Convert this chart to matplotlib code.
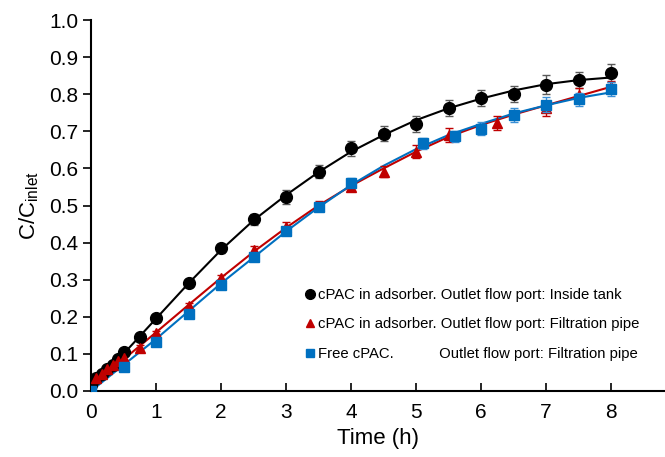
import numpy as np
import matplotlib
matplotlib.use("Agg")
import matplotlib.pyplot as plt
from matplotlib.lines import Line2D

plt.rcParams['font.family'] = ['Liberation Sans', 'DejaVu Sans']

# measured points
t_black = [0, 0.083, 0.167, 0.25, 0.333, 0.417, 0.5, 0.75, 1, 1.5, 2, 2.5, 3, 3.5, 4, 4.5, 5, 5.5, 6, 6.5, 7, 7.5, 8]
y_black = [0.015, 0.035, 0.045, 0.06, 0.07, 0.085, 0.105, 0.146, 0.196, 0.29, 0.385, 0.463, 0.523, 0.591, 0.654, 0.693, 0.72, 0.762, 0.79, 0.80, 0.826, 0.838, 0.857]
e_black = [0.005, 0.005, 0.005, 0.005, 0.005, 0.005, 0.008, 0.008, 0.01, 0.01, 0.012, 0.015, 0.018, 0.018, 0.02, 0.02, 0.022, 0.022, 0.022, 0.022, 0.025, 0.022, 0.025]

t_red = [0, 0.083, 0.167, 0.25, 0.333, 0.417, 0.5, 0.75, 1, 1.5, 2, 2.5, 3, 3.5, 4, 4.5, 5, 5.5, 6.25, 7, 7.5, 8]
y_red = [0.0, 0.035, 0.045, 0.06, 0.07, 0.08, 0.09, 0.115, 0.155, 0.229, 0.304, 0.38, 0.443, 0.5, 0.55, 0.591, 0.645, 0.69, 0.722, 0.762, 0.797, 0.82]
e_red = [0.005, 0.005, 0.005, 0.005, 0.005, 0.005, 0.006, 0.008, 0.008, 0.008, 0.008, 0.01, 0.012, 0.012, 0.012, 0.015, 0.018, 0.02, 0.018, 0.02, 0.02, 0.015]

t_blue = [0, 0.5, 1, 1.5, 2, 2.5, 3, 3.5, 4, 5.1, 5.6, 6, 6.5, 7, 7.5, 8]
y_blue = [0.0, 0.065, 0.133, 0.207, 0.285, 0.36, 0.432, 0.497, 0.561, 0.668, 0.686, 0.707, 0.744, 0.772, 0.786, 0.814]
e_blue = [0.004, 0.006, 0.008, 0.01, 0.01, 0.01, 0.01, 0.01, 0.012, 0.015, 0.015, 0.018, 0.02, 0.02, 0.018, 0.02]

# fitted curves
t_fit = [0, 0.5, 1, 1.5, 2, 2.5, 3, 3.5, 4, 4.5, 5, 5.5, 6, 6.5, 7, 7.5, 8]
fit_black = [0.01, 0.1, 0.195, 0.29, 0.38, 0.46, 0.528, 0.59, 0.645, 0.69, 0.73, 0.762, 0.788, 0.81, 0.827, 0.838, 0.845]
fit_red = [0.005, 0.085, 0.158, 0.232, 0.305, 0.375, 0.44, 0.5, 0.553, 0.6, 0.645, 0.685, 0.717, 0.745, 0.77, 0.795, 0.82]
fit_blue = [0.0, 0.07, 0.14, 0.215, 0.29, 0.36, 0.43, 0.495, 0.555, 0.607, 0.652, 0.69, 0.72, 0.748, 0.77, 0.79, 0.805]

labels = ["cPAC in adsorber. Outlet flow port: Inside tank",
          "cPAC in adsorber. Outlet flow port: Filtration pipe",
          "Free cPAC.           Outlet flow port: Filtration pipe"]

c_black, c_red, c_blue = "black", "#C00000", "#0070C0"

fig = plt.figure(figsize=(6.65, 4.57), dpi=100)
ax = fig.add_axes([91 / 665, 1 - 391 / 457, (665 - 91) / 665, (391 - 20) / 457])

ax.plot(t_fit, fit_black, color=c_black, lw=1.5, zorder=2)
ax.plot(t_fit, fit_red, color=c_red, lw=1.5, zorder=2)
ax.plot(t_fit, fit_blue, color=c_blue, lw=1.5, zorder=2)

ax.errorbar(t_black, y_black, yerr=e_black, fmt="o", ms=8.5, color=c_black,
            ecolor="#595959", elinewidth=1, capsize=3, zorder=3)
ax.errorbar(t_red, y_red, yerr=e_red, fmt="^", ms=7.5, color=c_red,
            ecolor=c_red, elinewidth=1, capsize=3, zorder=3)
ax.errorbar(t_blue, y_blue, yerr=e_blue, fmt="s", ms=7.5, color=c_blue,
            ecolor="#3A8FD6", elinewidth=1, capsize=3, zorder=4)

ax.set_xlim(0, 8.83)
ax.set_ylim(0, 1.0)
ax.set_xticks(range(0, 9))
ax.set_yticks(np.arange(0, 1.01, 0.1))
ax.set_yticklabels([f"{v:.1f}" for v in np.arange(0, 1.01, 0.1)])
ax.tick_params(axis="x", direction="in", length=6, width=1.2, labelsize=15, pad=9)
ax.tick_params(axis="y", direction="out", length=6, width=1.2, labelsize=15, pad=3)
for s in ("top", "right"):
    ax.spines[s].set_visible(False)
for s in ("left", "bottom"):
    ax.spines[s].set_linewidth(1.5)

ax.set_xlabel("Time (h)", fontsize=16, labelpad=4)
ax.set_ylabel("C/C$_{\\mathregular{inlet}}$", fontsize=16, labelpad=6)

handles = [Line2D([], [], ls="none", marker="o", ms=7, color=c_black),
           Line2D([], [], ls="none", marker="^", ms=6, color=c_red),
           Line2D([], [], ls="none", marker="s", ms=6, color=c_blue)]
ax.legend(handles, labels, loc="lower left", bbox_to_anchor=(0.35, 0.045),
          frameon=False, fontsize=10.7, handlelength=0.6, handletextpad=0.25,
          labelspacing=1.05)

fig.savefig("out.png", dpi=100)
